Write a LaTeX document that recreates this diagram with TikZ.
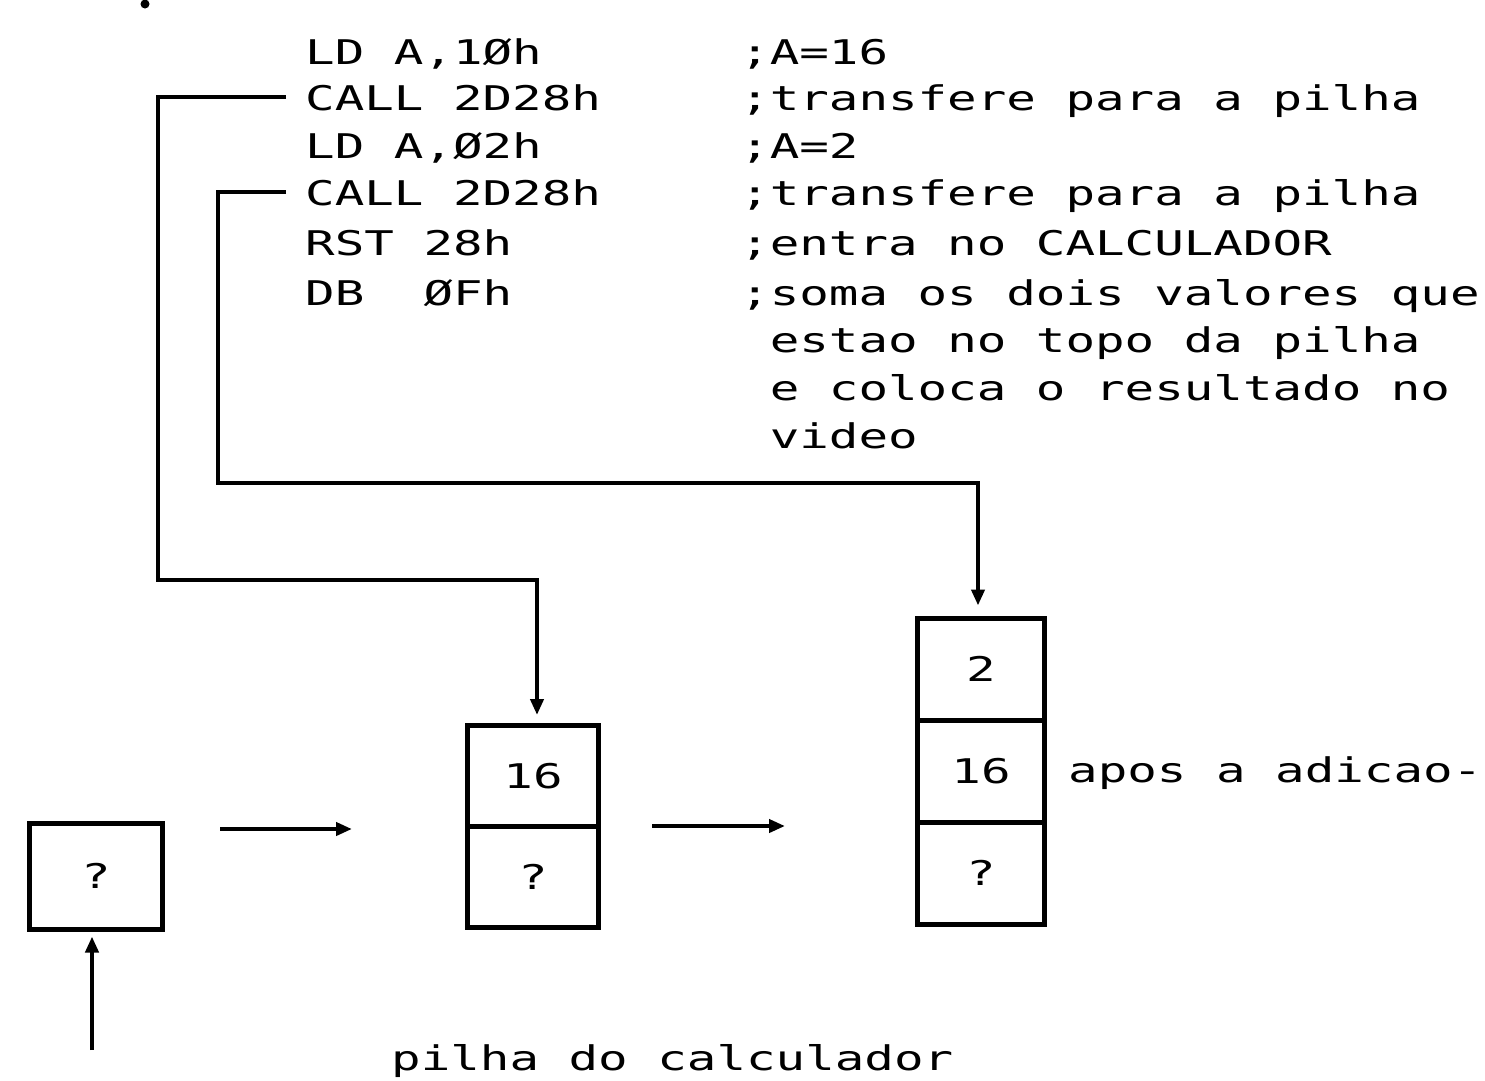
\documentclass[tikz,border=0pt]{standalone}
\usepackage{fontspec}
\usetikzlibrary{arrows.meta}
\newfontfamily\codefont{DejaVu Sans Mono}
\newcommand{\mywide}[1]{\scalebox{1.445}[1]{#1}}
\begin{document}
\begin{tikzpicture}[x=1pt,y=-1pt,
  code/.style={anchor=base west, inner sep=0pt, font=\codefont\fontsize{34}{40}\selectfont},
  cell/.style={draw, line width=5pt, inner sep=0pt, font=\codefont\fontsize{34}{40}\selectfont},
  conn/.style={line width=4pt},
  arr/.style={line width=4pt, -{Triangle[length=16pt,width=13pt]}}]
\useasboundingbox (0,0) rectangle (1485,1080);

% small mark at the top edge
\fill (145,4) circle (4.5);

% program listing
\node[code] (l1)    at (305,64)  {\mywide{LD A,1Øh}};
\node[code] (call1) at (305,110) {\mywide{CALL 2D28h}};
\node[code] (l3)    at (305,158) {\mywide{LD A,Ø2h}};
\node[code] (call2) at (305,205) {\mywide{CALL 2D28h}};
\node[code] (l5)    at (305,255) {\mywide{RST 28h}};
\node[code] (l6)    at (305,305) {\mywide{DB~~ØFh}};

% comments
\node[code] (cm1) at (740,64)  {\mywide{;A=16}};
\node[code] (cm2) at (740,110) {\mywide{;transfere para a pilha}};
\node[code] (cm3) at (740,158) {\mywide{;A=2}};
\node[code] (cm4) at (740,205) {\mywide{;transfere para a pilha}};
\node[code] (cm5) at (740,255) {\mywide{;entra no CALCULADOR}};
\node[code] (cm6) at (740,305) {\mywide{;soma os dois valores que}};
\node[code] (cm7) at (769.6,352) {\mywide{estao no topo da pilha}};
\node[code] (cm8) at (769.6,400) {\mywide{e coloca o resultado no}};
\node[code] (cm9) at (769.6,448) {\mywide{video}};

% stacks
\node[cell, minimum width=133pt, minimum height=106pt] (aq) at (96,876) {\mywide{?}};

\node[cell, minimum width=131pt, minimum height=101pt] (b16) at (533,776) {\mywide{16}};
\node[cell, minimum width=131pt, minimum height=101pt] (bq)  at (533,877) {\mywide{?}};

\node[cell, minimum width=127pt, minimum height=102pt] (c2box) at (981,669) {\mywide{2}};
\node[cell, minimum width=127pt, minimum height=102pt] (c16)   at (981,771) {\mywide{16}};
\node[cell, minimum width=127pt, minimum height=102pt] (cq)    at (981,873) {\mywide{?}};

% labels
\node[code] (apos)  at (1068,782) {\mywide{apos a adicao-}};
\node[code] (pilha) at (391,1070) {\mywide{pilha do calculador}};

% connectors from the CALL lines to the stacks
\coordinate (k1) at (158,580);
\coordinate (k2) at (218,483);
\draw[arr, shorten >=8pt]  ([xshift=-19pt]call1.west) -| (k1) -| ([xshift=4pt]b16.north);
\draw[arr, shorten >=10pt] ([xshift=-19pt]call2.west) -| (k2) -| ([xshift=-3pt]c2box.north);

% horizontal arrows between stacks
\coordinate (h1s) at (220,829);
\coordinate (h1e) at (352,829);
\coordinate (h2s) at (652,826);
\coordinate (h2e) at (785,826);
\draw[arr] (h1s) -- (h1e);
\draw[arr] (h2s) -- (h2e);

% arrow pointing up at the first stack
\coordinate (v1) at (92,1050);
\draw[arr, shorten >=5pt] (v1) -- (v1 |- aq.south);
\end{tikzpicture}
\end{document}
